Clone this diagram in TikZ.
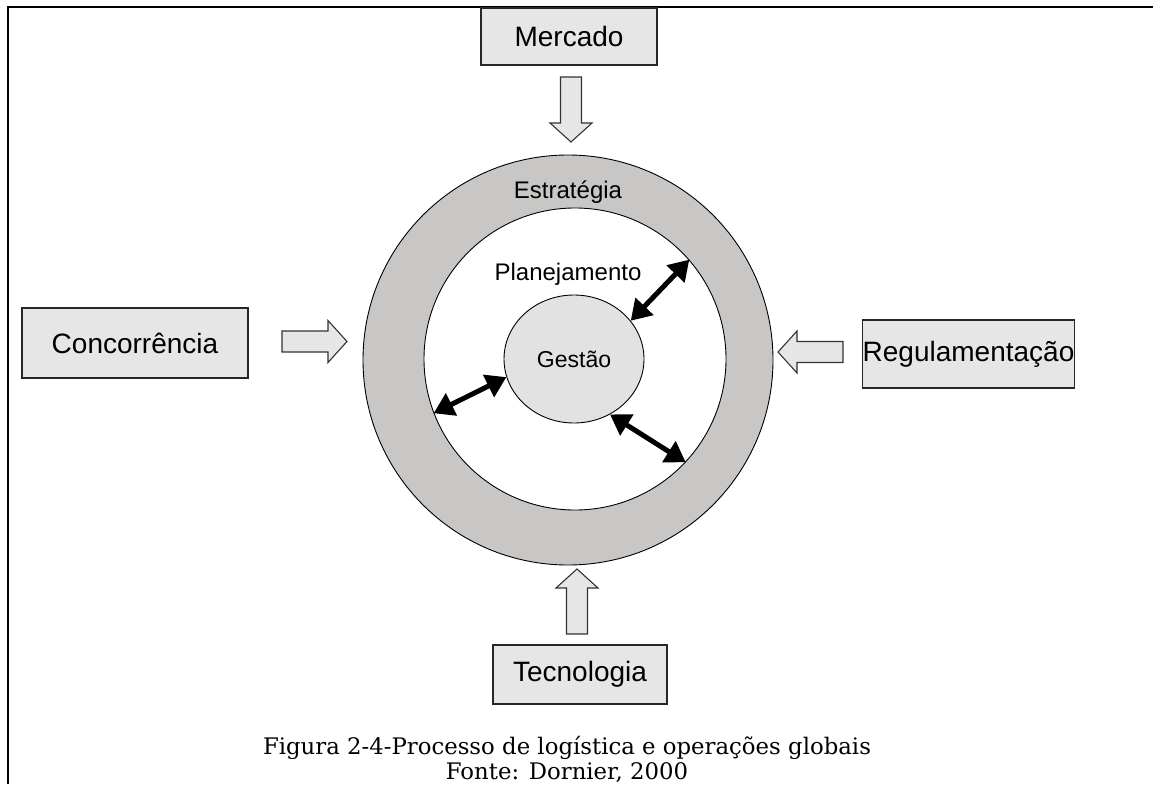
\documentclass[tikz,border=0pt]{standalone}
\usepackage{fontspec}
\setmainfont{Liberation Sans}
\newfontfamily\capfont{DejaVu Serif}
\usetikzlibrary{shapes.geometric,arrows.meta}

\definecolor{boxgray}{HTML}{E6E6E6}
\definecolor{ringgray}{HTML}{C9C7C5}
\definecolor{coregray}{HTML}{E2E2E2}

\tikzset{
  factor/.style={draw=black!85, line width=1.3pt, fill=boxgray, inner sep=0pt,
    font=\fontsize{28}{30}\selectfont},
  ringline/.style={draw=black, line width=0.9pt},
  label/.style={inner sep=0pt, font=\fontsize{24}{26}\selectfont},
  blockfill/.style={draw=black!80, line width=1.1pt, fill=boxgray, line join=miter},
  link/.style={line width=5pt, {Triangle[length=20pt,width=24pt]}-{Triangle[length=20pt,width=24pt]}},
  blockarrow/.pic={
    \draw[blockfill] (0,-10.5) -- (46,-10.5) -- (46,-21) -- (65,0) -- (46,21)
      -- (46,10.5) -- (0,10.5) -- cycle;
  }
}

\begin{document}
\begin{tikzpicture}[x=1pt, y=-1pt]
  \useasboundingbox (0,0) rectangle (1153,784);

  % frame along the left and top edges
  \draw[line width=2.6pt] (8,784) -- (8,7) -- (1153,7);

  % strategy ring, planning area and management core
  \node[circle, ringline, fill=ringgray, minimum size=410pt, inner sep=0pt] (outer) at (568,360) {};
  \node[circle, ringline, fill=white, minimum size=302pt, inner sep=0pt] (inner) at (575,359) {};
  \node[ellipse, ringline, fill=coregray, minimum width=140pt, minimum height=128pt, inner sep=0pt] (gestao) at (574,359) {};

  \node[label] (estrategia) at (568,192) {Estratégia};
  \node[label] (planejamento) at (568,274) {Planejamento};
  \node[label, font=\fontsize{23}{25}\selectfont] at (gestao.center) {Gestão};

  % two-way links between management and planning
  \draw[link] (gestao.34) -- (inner.41);
  \draw[link] (gestao.195) -- (inner.201);
  \draw[link] (gestao.303) -- (inner.317);

  % external factors
  \node[factor, minimum width=176pt, minimum height=57pt] (mercado) at (569,36.5) {Mercado};
  \node[factor, minimum width=226pt, minimum height=70pt] (concorrencia) at (135,343) {Concorrência};
  \node[factor, minimum width=211pt, minimum height=68pt] (regulamentacao) at (968.5,354) {Regulamentação};
  \node[factor, minimum width=174pt, minimum height=59pt] (tecnologia) at (580,674.5) {Tecnologia};

  % influence arrows pointing at the ring
  \pic[rotate=-90] at (571,77) {blockarrow};
  \pic at (282,341.5) {blockarrow};
  \pic[rotate=180] at (843,352) {blockarrow};
  \pic[rotate=90] at (577,634) {blockarrow};

  % caption
  \node[align=center, inner sep=0pt, font=\capfont\fontsize{22.8}{25}\selectfont] (caption) at (567,759)
    {Figura 2-4-Processo de logística e operações globais\\Fonte: Dornier, 2000};
\end{tikzpicture}
\end{document}
